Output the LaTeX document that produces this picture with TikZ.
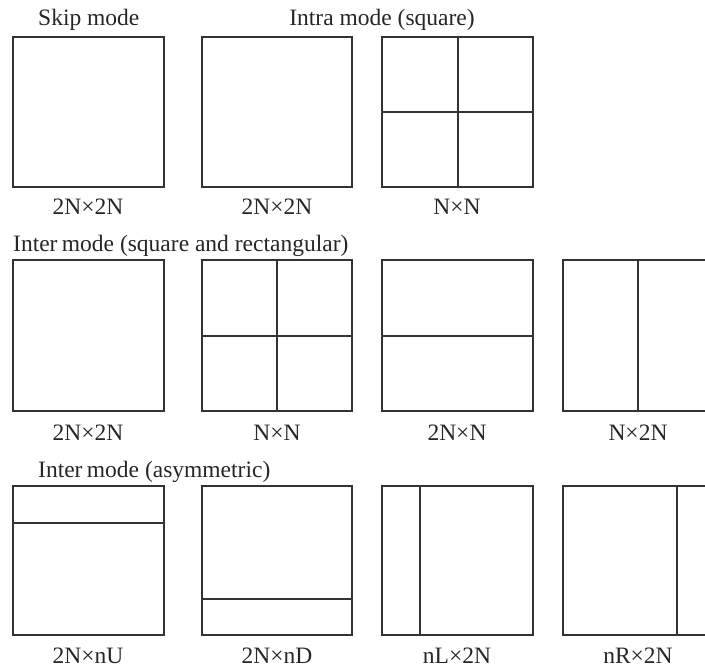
\documentclass[tikz,border=0pt]{standalone}
\usepackage{fontspec}
\setmainfont{Liberation Serif}
\begin{document}
\begin{tikzpicture}[x=1pt,y=-1pt,
  blk/.style={draw=black!80,line width=1.3pt,fill=none},
  div/.style={draw=black!80,line width=1.3pt},
  txt/.style={font=\fontsize{23.5}{28}\selectfont,inner sep=0pt,text=black!85},
  lbl/.style={txt,anchor=base}]
\useasboundingbox (0,0) rectangle (705,669);
% headings
\node[txt,anchor=base west] (h1) at (38,26) {Skip mode};
\node[txt,anchor=base] (h2) at (382,26) {Intra mode (square)};
\node[txt,anchor=base west] (h3) at (13,251) {Inter\hspace{-1.5pt} mode (square and rectangular)};
\node[txt,anchor=base west] (h4) at (38,477) {Inter\hspace{-1.5pt} mode (asymmetric)};
% row 1
\draw[blk] (13,37) rectangle (164,187);
\draw[blk] (202,37) rectangle (352,187);
\draw[blk] (382,37) rectangle (533,187);
\draw[div] (458,37) -- (458,187);
\draw[div] (382,112) -- (533,112);
\node[lbl] (l11) at (88,214) {2N\texttimes2N};
\node[lbl] (l12) at (277,214) {2N\texttimes2N};
\node[lbl] (l13) at (457,214) {N\texttimes N};
% row 2
\draw[blk] (13,260) rectangle (164,411);
\draw[blk] (202,260) rectangle (352,411);
\draw[div] (277,260) -- (277,411);
\draw[div] (202,336) -- (352,336);
\draw[blk] (382,260) rectangle (533,411);
\draw[div] (382,336) -- (533,336);
\draw[blk] (563,260) rectangle (714,411);
\draw[div] (638,260) -- (638,411);
\node[lbl] (l21) at (88,440) {2N\texttimes2N};
\node[lbl] (l22) at (277,440) {N\texttimes N};
\node[lbl] (l23) at (457,440) {2N\texttimes N};
\node[lbl] (l24) at (638,440) {N\texttimes2N};
% row 3
\draw[blk] (13,486) rectangle (164,635);
\draw[div] (13,523) -- (164,523);
\draw[blk] (202,486) rectangle (352,635);
\draw[div] (202,599) -- (352,599);
\draw[blk] (382,486) rectangle (533,635);
\draw[div] (420,486) -- (420,635);
\draw[blk] (563,486) rectangle (714,635);
\draw[div] (677,486) -- (677,635);
\node[lbl] (l31) at (88,663) {2N\texttimes nU};
\node[lbl] (l32) at (277,663) {2N\texttimes nD};
\node[lbl] (l33) at (457,663) {nL\texttimes2N};
\node[lbl] (l34) at (638,663) {nR\texttimes2N};
\end{tikzpicture}
\end{document}
